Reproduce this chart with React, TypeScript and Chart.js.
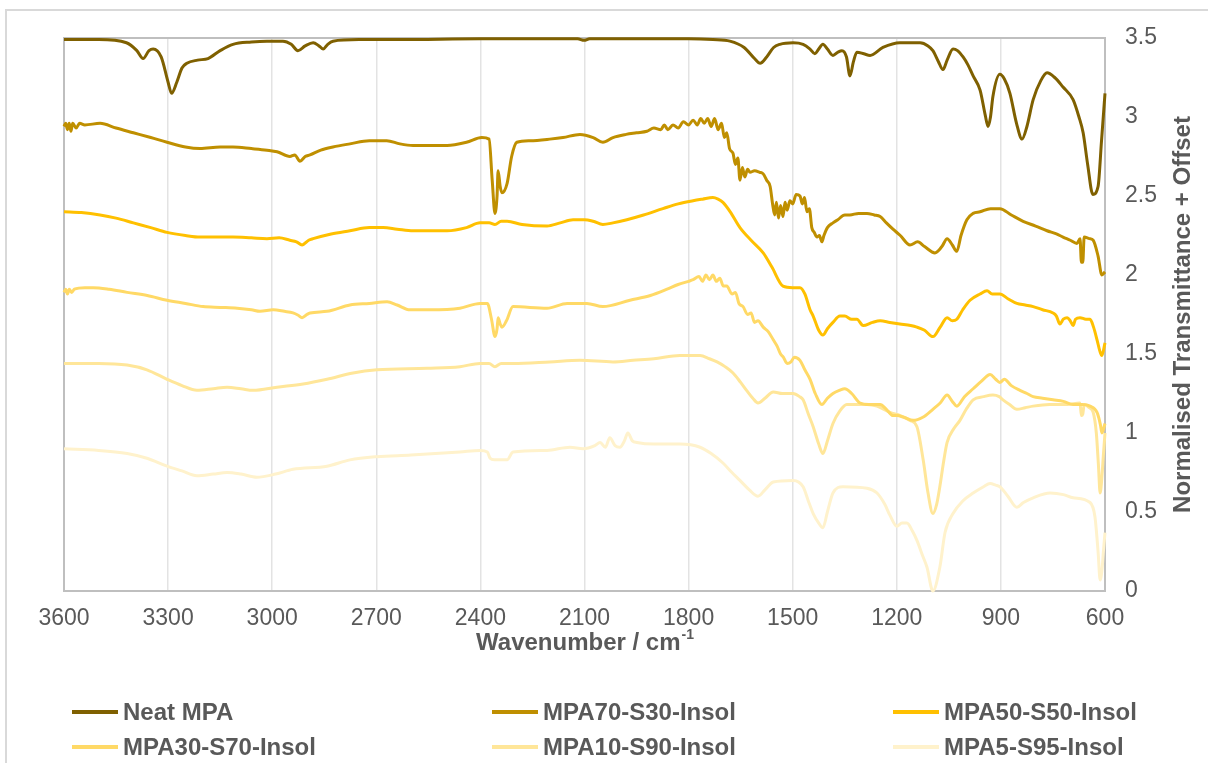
import React, { useEffect, useRef } from "react";
import { Chart, registerables } from "chart.js";

Chart.register(...registerables);

// Axis ticks
const wavenumberTicks = [3600, 3300, 3000, 2700, 2400, 2100, 1800, 1500, 1200, 900, 600];
const transmittanceTicks = [0, 0.5, 1, 1.5, 2, 2.5, 3, 3.5];

// Series labels and colours
const seriesNames = [
  "Neat MPA",
  "MPA70-S30-Insol",
  "MPA50-S50-Insol",
  "MPA30-S70-Insol",
  "MPA10-S90-Insol",
  "MPA5-S95-Insol",
];
const seriesColors = ["#7f6000", "#bf8f00", "#ffc000", "#ffd966", "#ffe699", "#fff2cc"];

// Neat MPA
const neatWn = [3600, 3500, 3420, 3390, 3372, 3355, 3343, 3320, 3300, 3290, 3275, 3260, 3246, 3215, 3185, 3150, 3113, 3060, 3015, 2969, 2945, 2926, 2905, 2882, 2865, 2853, 2840, 2825, 2750, 2632, 2400, 2120, 2101, 2085, 1800, 1730, 1681, 1640, 1610, 1594, 1575, 1555, 1537, 1499, 1470, 1450, 1436, 1425, 1413, 1400, 1384, 1370, 1358, 1345, 1335, 1325, 1315, 1295, 1277, 1240, 1191, 1133, 1110, 1096, 1080, 1067, 1055, 1038, 1025, 1009, 995, 980, 960, 945, 937, 930, 923, 903, 890, 874, 855, 839, 825, 807, 785, 767, 745, 721, 692, 675, 663, 650, 635, 620, 610, 600];
const neatT = [3.49, 3.49, 3.47, 3.42, 3.37, 3.42, 3.43, 3.38, 3.22, 3.15, 3.22, 3.31, 3.34, 3.36, 3.37, 3.42, 3.46, 3.475, 3.48, 3.48, 3.46, 3.42, 3.45, 3.47, 3.45, 3.43, 3.46, 3.48, 3.49, 3.49, 3.495, 3.495, 3.485, 3.495, 3.495, 3.49, 3.48, 3.44, 3.37, 3.34, 3.38, 3.44, 3.46, 3.47, 3.46, 3.43, 3.40, 3.43, 3.46, 3.43, 3.39, 3.41, 3.42, 3.38, 3.26, 3.35, 3.41, 3.40, 3.39, 3.44, 3.47, 3.47, 3.45, 3.42, 3.35, 3.30, 3.36, 3.43, 3.42, 3.38, 3.33, 3.26, 3.17, 3.01, 2.94, 3.00, 3.13, 3.27, 3.24, 3.15, 2.96, 2.86, 2.94, 3.11, 3.23, 3.28, 3.25, 3.19, 3.11, 3.00, 2.90, 2.70, 2.51, 2.56, 2.85, 3.15];

// MPA70-S30-Insol
const mpa70Wn = [3600, 3595, 3590, 3585, 3580, 3575, 3565, 3555, 3540, 3496, 3450, 3400, 3350, 3303, 3250, 3208, 3150, 3113, 3060, 3015, 2986, 2949, 2935, 2920, 2905, 2891, 2860, 2825, 2776, 2720, 2670, 2632, 2594, 2496, 2440, 2396, 2375, 2366, 2358, 2352, 2349, 2343, 2338, 2323, 2310, 2295, 2257, 2200, 2162, 2113, 2075, 2047, 2018, 1980, 1950, 1920, 1900, 1880, 1870, 1860, 1845, 1830, 1815, 1800, 1787, 1775, 1765, 1755, 1745, 1735, 1725, 1715, 1705, 1697, 1690, 1682, 1672, 1665, 1658, 1652, 1645, 1638, 1630, 1623, 1610, 1595, 1585, 1575, 1565, 1558, 1552, 1547, 1541, 1535, 1528, 1522, 1516, 1508, 1500, 1490, 1479, 1472, 1466, 1459, 1452, 1445, 1438, 1430, 1423, 1416, 1410, 1400, 1384, 1370, 1350, 1335, 1310, 1286, 1265, 1248, 1230, 1211, 1190, 1162, 1140, 1120, 1090, 1070, 1055, 1040, 1027, 1015, 998, 980, 960, 930, 903, 870, 836, 800, 767, 740, 721, 700, 681, 672, 668, 664, 660, 645, 634, 620, 609, 600];
const mpa70T = [2.94, 2.96, 2.92, 2.96, 2.91, 2.96, 2.93, 2.96, 2.95, 2.96, 2.93, 2.90, 2.87, 2.84, 2.81, 2.80, 2.81, 2.81, 2.80, 2.79, 2.78, 2.75, 2.76, 2.72, 2.75, 2.76, 2.79, 2.81, 2.83, 2.85, 2.85, 2.83, 2.82, 2.82, 2.84, 2.87, 2.86, 2.60, 2.39, 2.50, 2.66, 2.56, 2.52, 2.58, 2.75, 2.84, 2.85, 2.86, 2.87, 2.89, 2.87, 2.84, 2.87, 2.89, 2.90, 2.91, 2.93, 2.92, 2.95, 2.92, 2.95, 2.93, 2.97, 2.95, 2.98, 2.95, 2.99, 2.96, 2.99, 2.94, 2.99, 2.92, 2.96, 2.87, 2.90, 2.80, 2.77, 2.70, 2.74, 2.60, 2.68, 2.62, 2.67, 2.65, 2.66, 2.65, 2.64, 2.60, 2.56, 2.45, 2.38, 2.46, 2.36, 2.44, 2.37, 2.46, 2.41, 2.47, 2.45, 2.51, 2.50, 2.45, 2.49, 2.40, 2.42, 2.30, 2.27, 2.24, 2.25, 2.21, 2.25, 2.30, 2.33, 2.35, 2.38, 2.38, 2.39, 2.39, 2.38, 2.37, 2.33, 2.29, 2.25, 2.19, 2.21, 2.18, 2.14, 2.18, 2.23, 2.19, 2.15, 2.25, 2.35, 2.39, 2.40, 2.42, 2.42, 2.38, 2.34, 2.31, 2.28, 2.26, 2.24, 2.22, 2.20, 2.23, 2.08, 2.08, 2.24, 2.23, 2.22, 2.12, 2.00, 2.02];

// MPA50-S50-Insol
const mpa50Wn = [3600, 3550, 3496, 3450, 3400, 3350, 3303, 3250, 3208, 3113, 3060, 3015, 2980, 2949, 2930, 2914, 2895, 2882, 2830, 2776, 2720, 2680, 2640, 2594, 2496, 2440, 2401, 2375, 2358, 2340, 2323, 2280, 2208, 2170, 2133, 2100, 2075, 2047, 2018, 1978, 1930, 1874, 1830, 1787, 1760, 1730, 1715, 1701, 1680, 1652, 1620, 1585, 1560, 1528, 1500, 1479, 1465, 1450, 1441, 1425, 1413, 1400, 1384, 1364, 1350, 1330, 1315, 1297, 1270, 1248, 1220, 1191, 1160, 1142, 1120, 1096, 1075, 1055, 1040, 1027, 1010, 989, 960, 940, 925, 903, 880, 854, 830, 807, 780, 750, 740, 730, 720, 709, 700, 692, 685, 672, 655, 643, 633, 623, 615, 609, 600];
const mpa50T = [2.40, 2.395, 2.38, 2.36, 2.33, 2.30, 2.27, 2.25, 2.24, 2.24, 2.235, 2.23, 2.235, 2.22, 2.21, 2.19, 2.22, 2.23, 2.26, 2.28, 2.30, 2.30, 2.29, 2.28, 2.28, 2.30, 2.33, 2.33, 2.32, 2.34, 2.34, 2.32, 2.31, 2.33, 2.35, 2.35, 2.34, 2.32, 2.33, 2.35, 2.38, 2.42, 2.45, 2.47, 2.48, 2.49, 2.48, 2.46, 2.40, 2.30, 2.22, 2.14, 2.05, 1.93, 1.92, 1.92, 1.88, 1.78, 1.74, 1.65, 1.62, 1.66, 1.70, 1.74, 1.74, 1.72, 1.72, 1.68, 1.70, 1.71, 1.70, 1.69, 1.68, 1.67, 1.65, 1.61, 1.67, 1.73, 1.71, 1.72, 1.78, 1.84, 1.88, 1.90, 1.88, 1.88, 1.85, 1.82, 1.81, 1.80, 1.78, 1.76, 1.74, 1.69, 1.72, 1.73, 1.71, 1.68, 1.72, 1.73, 1.72, 1.72, 1.67, 1.59, 1.52, 1.49, 1.57];

// MPA30-S70-Insol
const mpa30Wn = [3600, 3595, 3590, 3585, 3578, 3570, 3540, 3516, 3470, 3418, 3360, 3303, 3250, 3199, 3150, 3101, 3060, 3035, 2997, 2965, 2940, 2925, 2914, 2900, 2891, 2842, 2776, 2720, 2669, 2640, 2603, 2545, 2459, 2401, 2380, 2368, 2358, 2352, 2349, 2343, 2338, 2325, 2306, 2208, 2150, 2093, 2047, 1969, 1910, 1862, 1830, 1800, 1787, 1770, 1760, 1750, 1740, 1730, 1720, 1710, 1700, 1690, 1675, 1665, 1655, 1643, 1630, 1620, 1610, 1600, 1585, 1570, 1556, 1545, 1535, 1527, 1516, 1505, 1495, 1479, 1465, 1450, 1435, 1416, 1400, 1384, 1365, 1350, 1330, 1306, 1280, 1248, 1230, 1211, 1200, 1180, 1153, 1125, 1096, 1075, 1055, 1040, 1027, 1005, 980, 955, 931, 915, 903, 890, 870, 845, 825, 807, 780, 750, 720, 692, 665, 643, 623, 613, 609, 600];
const mpa30T = [1.89, 1.91, 1.88, 1.91, 1.89, 1.91, 1.92, 1.92, 1.91, 1.89, 1.87, 1.84, 1.82, 1.80, 1.795, 1.79, 1.78, 1.77, 1.78, 1.77, 1.76, 1.745, 1.73, 1.75, 1.76, 1.77, 1.81, 1.82, 1.83, 1.81, 1.78, 1.78, 1.79, 1.82, 1.82, 1.72, 1.61, 1.66, 1.73, 1.69, 1.67, 1.71, 1.80, 1.79, 1.82, 1.82, 1.80, 1.84, 1.87, 1.91, 1.94, 1.96, 1.97, 1.99, 1.96, 2.00, 1.97, 2.00, 1.96, 1.98, 1.93, 1.93, 1.88, 1.89, 1.82, 1.80, 1.75, 1.76, 1.70, 1.71, 1.67, 1.64, 1.59, 1.55, 1.50, 1.48, 1.44, 1.45, 1.48, 1.46, 1.40, 1.34, 1.25, 1.18, 1.22, 1.25, 1.27, 1.28, 1.25, 1.19, 1.18, 1.18, 1.15, 1.11, 1.11, 1.10, 1.08, 1.10, 1.15, 1.19, 1.24, 1.20, 1.17, 1.23, 1.28, 1.33, 1.37, 1.34, 1.32, 1.34, 1.30, 1.27, 1.25, 1.23, 1.22, 1.21, 1.20, 1.18, 1.18, 1.17, 1.13, 1.05, 1.00, 1.06];

// MPA10-S90-Insol
const mpa10Wn = [3600, 3500, 3418, 3361, 3303, 3260, 3217, 3170, 3130, 3090, 3055, 2986, 2911, 2842, 2767, 2698, 2554, 2459, 2401, 2375, 2358, 2340, 2306, 2200, 2113, 2018, 1960, 1900, 1825, 1796, 1767, 1740, 1718, 1695, 1672, 1650, 1633, 1615, 1600, 1580, 1556, 1530, 1499, 1480, 1470, 1455, 1441, 1425, 1413, 1400, 1384, 1364, 1344, 1286, 1257, 1220, 1190, 1162, 1142, 1124, 1110, 1096, 1085, 1076, 1065, 1055, 1035, 1018, 1000, 980, 950, 923, 905, 894, 875, 854, 830, 807, 760, 709, 672, 668, 664, 660, 645, 634, 625, 619, 614, 608, 605, 600];
const mpa10T = [1.44, 1.44, 1.43, 1.40, 1.34, 1.30, 1.27, 1.28, 1.29, 1.28, 1.27, 1.29, 1.31, 1.34, 1.38, 1.40, 1.41, 1.42, 1.44, 1.44, 1.42, 1.44, 1.44, 1.45, 1.46, 1.45, 1.46, 1.47, 1.49, 1.49, 1.49, 1.47, 1.45, 1.42, 1.38, 1.32, 1.27, 1.22, 1.19, 1.22, 1.26, 1.25, 1.25, 1.23, 1.21, 1.12, 1.04, 0.93, 0.87, 0.95, 1.06, 1.14, 1.18, 1.18, 1.17, 1.13, 1.11, 1.08, 1.04, 0.83, 0.62, 0.49, 0.55, 0.66, 0.82, 0.94, 1.03, 1.08, 1.15, 1.21, 1.23, 1.24, 1.23, 1.21, 1.18, 1.15, 1.16, 1.17, 1.18, 1.18, 1.19, 1.11, 1.12, 1.18, 1.16, 1.13, 1.00, 0.80, 0.62, 0.75, 0.85, 1.00];

// MPA5-S95-Insol
const mpa5Wn = [3600, 3500, 3418, 3361, 3303, 3260, 3217, 3170, 3130, 3090, 3044, 2990, 2940, 2842, 2776, 2698, 2600, 2459, 2401, 2380, 2372, 2360, 2343, 2323, 2306, 2208, 2142, 2104, 2070, 2055, 2040, 2027, 2012, 1998, 1985, 1975, 1962, 1949, 1900, 1825, 1767, 1735, 1701, 1675, 1652, 1625, 1600, 1580, 1556, 1499, 1470, 1455, 1441, 1425, 1413, 1400, 1384, 1355, 1286, 1257, 1235, 1220, 1200, 1185, 1171, 1155, 1142, 1125, 1113, 1096, 1076, 1061, 1038, 1010, 980, 950, 931, 915, 903, 880, 854, 835, 807, 758, 720, 692, 643, 629, 620, 614, 608, 605, 600];
const mpa5T = [0.90, 0.89, 0.87, 0.84, 0.79, 0.76, 0.73, 0.74, 0.75, 0.74, 0.72, 0.74, 0.77, 0.79, 0.83, 0.85, 0.86, 0.88, 0.89, 0.88, 0.84, 0.83, 0.83, 0.83, 0.88, 0.89, 0.91, 0.90, 0.92, 0.94, 0.91, 0.97, 0.92, 0.91, 0.95, 1.00, 0.95, 0.94, 0.93, 0.93, 0.91, 0.87, 0.81, 0.75, 0.70, 0.64, 0.60, 0.64, 0.69, 0.70, 0.66, 0.57, 0.49, 0.43, 0.40, 0.50, 0.62, 0.66, 0.65, 0.62, 0.55, 0.48, 0.41, 0.43, 0.43, 0.38, 0.32, 0.22, 0.15, 0.0, 0.15, 0.37, 0.49, 0.57, 0.62, 0.66, 0.68, 0.67, 0.66, 0.60, 0.53, 0.56, 0.59, 0.62, 0.61, 0.59, 0.56, 0.47, 0.25, 0.07, 0.15, 0.24, 0.37];

const seriesWn = [neatWn, mpa70Wn, mpa50Wn, mpa30Wn, mpa10Wn, mpa5Wn];
const seriesT = [neatT, mpa70T, mpa50T, mpa30T, mpa10T, mpa5T];

const FONT = '"Liberation Sans", Arial, sans-serif';
const TEXT_COLOR = "#595959";
const FRAME_COLOR = "#bfbfbf";

// Draws the plot box and the two axis titles
const decorations = {
  id: "decorations",
  beforeDatasetsDraw(chart: any) {
    const { ctx, chartArea } = chart;
    ctx.save();
    ctx.strokeStyle = FRAME_COLOR;
    ctx.lineWidth = 2;
    ctx.strokeRect(chartArea.left, chartArea.top, chartArea.right - chartArea.left, chartArea.bottom - chartArea.top);
    ctx.restore();
  },
  afterDraw(chart: any) {
    const { ctx, chartArea } = chart;
    ctx.save();
    ctx.fillStyle = TEXT_COLOR;
    ctx.textBaseline = "middle";

    // x-axis title with superscript unit
    const main = "Wavenumber / cm";
    const sup = "-1";
    ctx.font = `bold 24px ${FONT}`;
    const wMain = ctx.measureText(main).width;
    ctx.font = `bold 14px ${FONT}`;
    const wSup = ctx.measureText(sup).width;
    const cx = (chartArea.left + chartArea.right) / 2;
    const ty = chartArea.bottom + 52;
    const startX = cx - (wMain + wSup) / 2;
    ctx.textAlign = "left";
    ctx.font = `bold 24px ${FONT}`;
    ctx.fillText(main, startX, ty);
    ctx.font = `bold 14px ${FONT}`;
    ctx.fillText(sup, startX + wMain + 1, ty - 8);

    // y-axis title on the right, reading bottom to top
    ctx.translate(chartArea.right + 78, (chartArea.top + chartArea.bottom) / 2);
    ctx.rotate(-Math.PI / 2);
    ctx.textAlign = "center";
    ctx.font = `bold 24px ${FONT}`;
    ctx.fillText("Normalised Transmittance + Offset", 0, 0);
    ctx.restore();
  },
};

function LegendItem({ name, color, left, top }: { name: string; color: string; left: number; top: number }) {
  return (
    <div style={{ position: "absolute", left, top, height: 30, display: "flex", alignItems: "center" }}>
      <div style={{ width: 46, height: 4, background: color, marginRight: 5 }} />
      <span style={{ font: `bold 24px ${FONT}`, color: TEXT_COLOR, whiteSpace: "nowrap" }}>{name}</span>
    </div>
  );
}

export default function App() {
  const canvasRef = useRef<HTMLCanvasElement | null>(null);

  useEffect(() => {
    const canvas = canvasRef.current;
    if (!canvas) return;
    const chart = new Chart(canvas, {
      type: "line",
      data: {
        datasets: seriesNames.map((name, i) => ({
          label: name,
          data: seriesWn[i].map((x, j) => ({ x, y: seriesT[i][j] })),
          borderColor: seriesColors[i],
          backgroundColor: seriesColors[i],
          borderWidth: 3,
          pointRadius: 0,
          fill: false,
          cubicInterpolationMode: "monotone" as const,
          clip: 4,
        })),
      },
      options: {
        responsive: false,
        animation: false,
        devicePixelRatio: 1,
        layout: { padding: { left: 64, top: 38, right: 0, bottom: 92 } },
        plugins: { legend: { display: false }, tooltip: { enabled: false } },
        scales: {
          x: {
            type: "linear",
            reverse: true,
            min: 600,
            max: 3600,
            afterBuildTicks: (scale: any) => {
              scale.ticks = wavenumberTicks.map((v) => ({ value: v }));
            },
            ticks: {
              autoSkip: false,
              maxRotation: 0,
              padding: 14,
              color: TEXT_COLOR,
              font: { family: FONT, size: 23 },
              callback: (v: any) => String(v),
            },
            grid: { color: "#e3e3e3", lineWidth: 1.5, drawTicks: false },
            border: { display: false },
            afterFit: (scale: any) => {
              scale.height = 80;
            },
          },
          y: {
            position: "right",
            min: 0,
            max: 3.5,
            afterBuildTicks: (scale: any) => {
              scale.ticks = transmittanceTicks.map((v) => ({ value: v }));
            },
            ticks: {
              padding: 20,
              color: TEXT_COLOR,
              font: { family: FONT, size: 23 },
              callback: (v: any) => String(v),
            },
            grid: { display: false, drawTicks: false },
            border: { display: false },
            afterFit: (scale: any) => {
              scale.width = 103;
            },
          },
        },
      },
      plugins: [decorations],
    });
    return () => chart.destroy();
  }, []);

  const colLefts = [72, 492, 893];
  const rowTops = [697, 732];

  return (
    <div style={{ position: "absolute", left: 0, top: 0, width: 1208, height: 763, background: "#fff", overflow: "hidden" }}>
      <div style={{ position: "absolute", left: 5, top: 9, width: 1230, height: 790, border: "2px solid #d9d9d9" }} />
      <canvas ref={canvasRef} width={1208} height={763} style={{ position: "absolute", left: 0, top: 0, width: 1208, height: 763 }} />
      {seriesNames.map((name, i) => (
        <LegendItem key={name} name={name} color={seriesColors[i]} left={colLefts[i % 3]} top={rowTops[Math.floor(i / 3)]} />
      ))}
    </div>
  );
}
